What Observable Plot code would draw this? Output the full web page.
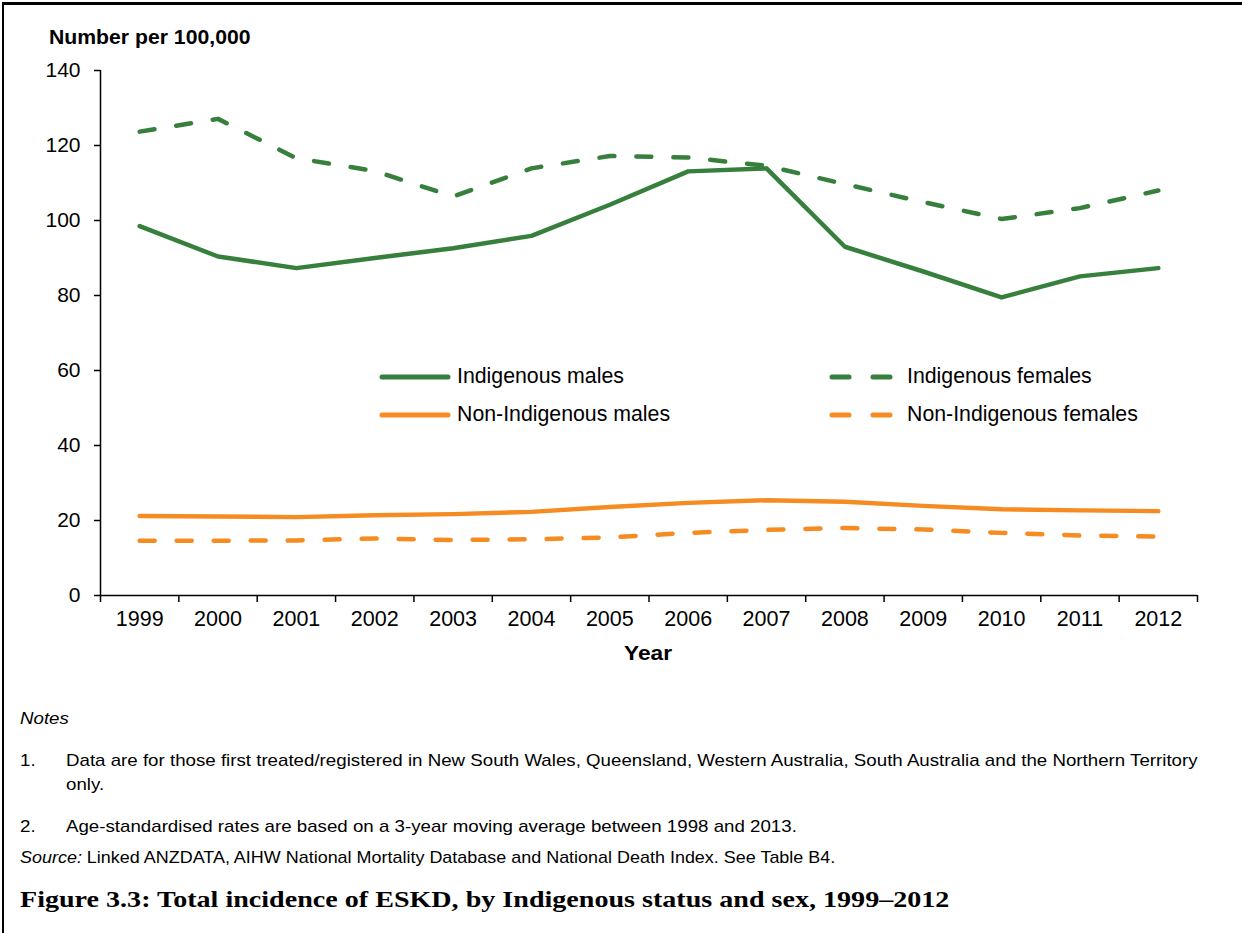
<!DOCTYPE html>
<html>
<head>
<meta charset="utf-8">
<script src="https://cdn.jsdelivr.net/npm/d3@7"></script>
<script src="https://cdn.jsdelivr.net/npm/@observablehq/plot@0.6"></script>
<style>
  html, body { margin: 0; padding: 0; background: #fff; }
  body { width: 1242px; height: 933px; position: relative; overflow: hidden; font-family: "Liberation Sans", Arial, sans-serif; color: #000; }
  #frame { position: absolute; left: 2px; top: 2px; width: 1250px; height: 940px; border-left: 2px solid #000; border-top: 3px solid #000; }
  #chart { position: absolute; left: 0; top: 0; }
  .abs { position: absolute; white-space: nowrap; }
  .ylab { left: 49px; top: 26px; font-weight: bold; font-size: 20px; transform: scaleX(1.06); transform-origin: 0 0; }
  .xlab { left: 648px; top: 641px; font-weight: bold; font-size: 21px; transform: translateX(-50%) scaleX(1.08); }
  .leg { font-size: 21.3px; }
  .note { font-size: 17px; transform: scaleX(1.1); transform-origin: 0 0; }
  .ftitle { font-family: "Liberation Serif", "Times New Roman", serif; font-weight: bold; font-size: 24px; left: 20px; top: 886px; transform: scaleX(1.17); transform-origin: 0 0; }
</style>
</head>
<body>
<div id="frame"></div>
<div id="chart"></div>
<div class="abs ylab">Number per 100,000</div>
<div class="abs xlab">Year</div>
<div id="legend"></div>
<div class="abs note" style="left:20px; top:709px; font-style:italic;">Notes</div>
<div class="abs note" style="left:20px; top:751px;">1.</div>
<div class="abs note" style="left:66px; top:751px;">Data are for those first treated/registered in New South Wales, Queensland, Western Australia, South Australia and the Northern Territory</div>
<div class="abs note" style="left:66px; top:775px;">only.</div>
<div class="abs note" style="left:20px; top:817px;">2.</div>
<div class="abs note" style="left:66px; top:817px;">Age-standardised rates are based on a 3-year moving average between 1998 and 2013.</div>
<div class="abs note" style="left:20px; top:848px; transform: scaleX(1.056);"><i>Source:</i> Linked ANZDATA, AIHW National Mortality Database and National Death Index. See Table B4.</div>
<div class="abs ftitle">Figure 3.3: Total incidence of ESKD, by Indigenous status and sex, 1999–2012</div>
<script>
const years = [1999, 2000, 2001, 2002, 2003, 2004, 2005, 2006, 2007, 2008, 2009, 2010, 2011, 2012];
const indigenousMales = [98.5, 90.4, 87.3, 90.0, 92.6, 95.9, 104.2, 113.1, 113.9, 93.0, 86.4, 79.5, 85.1, 87.3];
const indigenousFemales = [123.7, 127.1, 116.6, 113.2, 106.4, 113.9, 117.2, 116.8, 114.6, 109.7, 104.9, 100.4, 103.3, 108.0];
const nonIndigenousMales = [21.2, 21.1, 20.9, 21.4, 21.7, 22.3, 23.6, 24.7, 25.4, 25.0, 23.9, 23.0, 22.7, 22.5];
const nonIndigenousFemales = [14.6, 14.6, 14.7, 15.2, 14.8, 15.0, 15.5, 16.7, 17.5, 18.0, 17.6, 16.7, 16.0, 15.7];
const yTicks = [0, 20, 40, 60, 80, 100, 120, 140];

const green = "#367f3c";
const orange = "#f68b22";
const dash = "15,22";

const seriesList = [
  {name: "Indigenous males", values: indigenousMales, color: green, dashed: false},
  {name: "Indigenous females", values: indigenousFemales, color: green, dashed: true},
  {name: "Non-Indigenous males", values: nonIndigenousMales, color: orange, dashed: false},
  {name: "Non-Indigenous females", values: nonIndigenousFemales, color: orange, dashed: true}
];
const table = seriesList.flatMap(s => years.map((yr, i) => ({series: s.name, year: yr, value: s.values[i]})));
const boundaries = years.map(y => y - 0.5).concat([years[years.length - 1] + 0.5]);

const lineMarks = seriesList.slice().reverse().map(s => Plot.line(table.filter(d => d.series === s.name), {
  x: "year", y: "value", stroke: s.color, strokeWidth: 4.5,
  strokeLinecap: "round", strokeLinejoin: "round",
  strokeDasharray: s.dashed ? dash : null
}));

const chart = Plot.plot({
  width: 1242,
  height: 680,
  marginLeft: 100,
  marginRight: 45,
  marginTop: 70,
  marginBottom: 85,
  style: {fontFamily: "'Liberation Sans', Arial, sans-serif", fontSize: "21px", color: "#000", background: "transparent"},
  x: {domain: [boundaries[0], boundaries[boundaries.length - 1]], label: null},
  y: {domain: [0, 140], label: null},
  marks: [
    Plot.axisY({ticks: yTicks, tickSize: 6, tickPadding: 14, fontSize: 21, label: null, strokeWidth: 1.5}),
    Plot.axisX({ticks: boundaries, tickSize: 7, tickFormat: () => "", label: null, strokeWidth: 1.5}),
    Plot.axisX({ticks: years, tickSize: 0, tickPadding: 15, tickFormat: d => String(d), fontSize: 21.5, label: null}),
    Plot.ruleX([boundaries[0]], {stroke: "#000", strokeWidth: 1.5}),
    Plot.ruleY([0], {stroke: "#000", strokeWidth: 1.5}),
    ...lineMarks
  ]
});
document.getElementById("chart").appendChild(chart);

// legend
const legendPos = [
  {x: 380, y: 377}, {x: 830, y: 377}, {x: 380, y: 415}, {x: 830, y: 415}
];
const legend = document.getElementById("legend");
seriesList.forEach((s, i) => {
  const p = legendPos[i];
  const sw = s.dashed ? 64 : 70;
  const ns = "http://www.w3.org/2000/svg";
  const svg = document.createElementNS(ns, "svg");
  svg.setAttribute("width", sw + 6);
  svg.setAttribute("height", 12);
  svg.style.position = "absolute";
  svg.style.left = (p.x - 3) + "px";
  svg.style.top = (p.y - 6) + "px";
  const ln = document.createElementNS(ns, "line");
  ln.setAttribute("x1", 3 + 2); ln.setAttribute("x2", 3 + sw - 2);
  ln.setAttribute("y1", 6); ln.setAttribute("y2", 6);
  ln.setAttribute("stroke", s.color);
  ln.setAttribute("stroke-width", 5);
  ln.setAttribute("stroke-linecap", "round");
  if (s.dashed) ln.setAttribute("stroke-dasharray", "17,24");
  svg.appendChild(ln);
  legend.appendChild(svg);
  const t = document.createElement("div");
  t.className = "abs leg";
  t.textContent = s.name;
  t.style.left = (p.x + 77) + "px";
  t.style.top = (p.y - 13) + "px";
  legend.appendChild(t);
});
</script>
</body>
</html>
